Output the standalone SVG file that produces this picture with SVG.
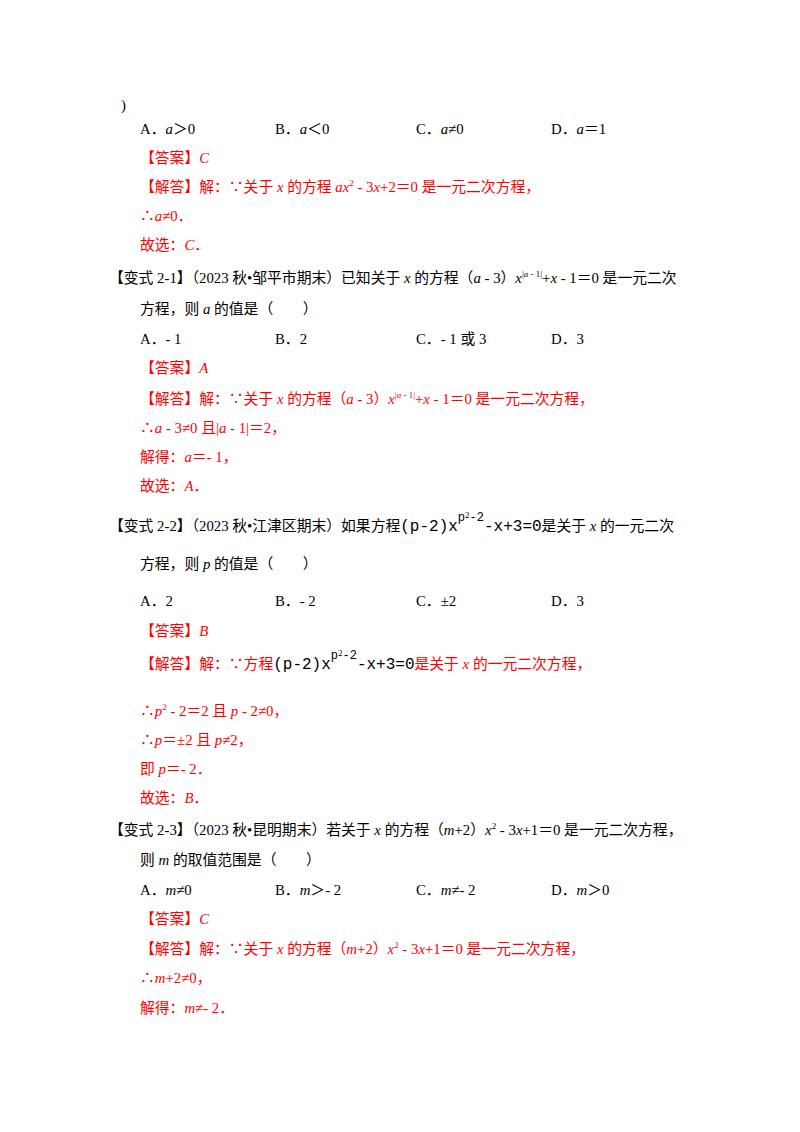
<svg xmlns="http://www.w3.org/2000/svg" width="800" height="1132" viewBox="0 0 800 1132">
<style>
text{font-family:"Liberation Serif","Noto Sans CJK SC",serif;font-size:14.8px;fill:#000}
.r{fill:#f00}
.i{font-style:italic}
.s{font-size:9px}
.m{font-family:"Liberation Mono","Noto Sans CJK SC",monospace;font-size:16px}
.ms{font-family:"Liberation Mono",monospace;font-size:12px}
</style>
<rect width="800" height="1132" fill="#fff"/>
<text x="121" y="110">)</text>
<text x="140" y="134">A．<tspan class="i">a</tspan>＞0</text>
<text x="275" y="134">B．<tspan class="i">a</tspan>＜0</text>
<text x="416" y="134">C．<tspan class="i">a</tspan>≠0</text>
<text x="551" y="134">D．<tspan class="i">a</tspan>＝1</text>
<text x="140" y="163" class="r">【答案】<tspan class="i">C</tspan></text>
<text x="140" y="192" class="r">【解答】解：∵关于 <tspan class="i">x</tspan> 的方程 <tspan class="i">ax</tspan><tspan class="s" dy="-6">2</tspan><tspan dy="6"> - 3</tspan><tspan class="i">x</tspan>+2＝0 是一元二次方程，</text>
<text x="140" y="221" class="r">∴<tspan class="i">a</tspan>≠0．</text>
<text x="140" y="250" class="r">故选：<tspan class="i">C</tspan>．</text>
<text x="109" y="283">【变式 2-1】（2023 秋•邹平市期末）已知关于 <tspan class="i">x</tspan> 的方程（<tspan class="i">a</tspan> - 3）<tspan class="i">x</tspan><tspan class="s" dy="-6">|<tspan class="i">a</tspan> - 1|</tspan><tspan dy="6">+</tspan><tspan class="i">x</tspan> - 1＝0 是一元二次</text>
<text x="140" y="314">方程，则 <tspan class="i">a</tspan> 的值是（　　）</text>
<text x="140" y="344">A．- 1</text>
<text x="275" y="344">B．2</text>
<text x="416" y="344">C．- 1 或 3</text>
<text x="551" y="344">D．3</text>
<text x="140" y="373" class="r">【答案】<tspan class="i">A</tspan></text>
<text x="140" y="404" class="r">【解答】解：∵关于 <tspan class="i">x</tspan> 的方程（<tspan class="i">a</tspan> - 3）<tspan class="i">x</tspan><tspan class="s" dy="-6">|<tspan class="i">a</tspan> - 1|</tspan><tspan dy="6">+</tspan><tspan class="i">x</tspan> - 1＝0 是一元二次方程，</text>
<text x="140" y="433" class="r">∴<tspan class="i">a</tspan> - 3≠0 且|<tspan class="i">a</tspan> - 1|＝2，</text>
<text x="140" y="462" class="r">解得：<tspan class="i">a</tspan>＝- 1，</text>
<text x="140" y="491" class="r">故选：<tspan class="i">A</tspan>．</text>
<text x="109" y="531">【变式 2-2】（2023 秋•江津区期末）如果方程<tspan class="m">(p-2)x</tspan><tspan class="ms" dy="-10">p</tspan><tspan class="s" dy="-3">2</tspan><tspan class="ms" dy="3">-2</tspan><tspan class="m" dy="10">-x+3=0</tspan>是关于 <tspan class="i">x</tspan> 的一元二次</text>
<text x="140" y="569">方程，则 <tspan class="i">p</tspan> 的值是（　　）</text>
<text x="140" y="606">A．2</text>
<text x="275" y="606">B．- 2</text>
<text x="416" y="606">C．±2</text>
<text x="551" y="606">D．3</text>
<text x="140" y="636" class="r">【答案】<tspan class="i">B</tspan></text>
<text x="140" y="669" class="r">【解答】解：∵方程<tspan class="m" fill="#000">(p-2)x</tspan><tspan class="ms" fill="#000" dy="-10">p</tspan><tspan class="s" fill="#000" dy="-3">2</tspan><tspan class="ms" fill="#000" dy="3">-2</tspan><tspan class="m" fill="#000" dy="10">-x+3=0</tspan>是关于 <tspan class="i">x</tspan> 的一元二次方程，</text>
<text x="140" y="716" class="r">∴<tspan class="i">p</tspan><tspan class="s" dy="-6">2</tspan><tspan dy="6"> - 2＝2 且 </tspan><tspan class="i">p</tspan> - 2≠0，</text>
<text x="140" y="745" class="r">∴<tspan class="i">p</tspan>＝±2 且 <tspan class="i">p</tspan>≠2，</text>
<text x="140" y="774" class="r">即 <tspan class="i">p</tspan>＝- 2．</text>
<text x="140" y="803" class="r">故选：<tspan class="i">B</tspan>．</text>
<text x="109" y="835">【变式 2-3】（2023 秋•昆明期末）若关于 <tspan class="i">x</tspan> 的方程（<tspan class="i">m</tspan>+2）<tspan class="i">x</tspan><tspan class="s" dy="-6">2</tspan><tspan dy="6"> - 3</tspan><tspan class="i">x</tspan>+1＝0 是一元二次方程，</text>
<text x="140" y="865">则 <tspan class="i">m</tspan> 的取值范围是（　　）</text>
<text x="140" y="895">A．<tspan class="i">m</tspan>≠0</text>
<text x="275" y="895">B．<tspan class="i">m</tspan>＞- 2</text>
<text x="416" y="895">C．<tspan class="i">m</tspan>≠- 2</text>
<text x="551" y="895">D．<tspan class="i">m</tspan>＞0</text>
<text x="140" y="924" class="r">【答案】<tspan class="i">C</tspan></text>
<text x="140" y="954" class="r">【解答】解：∵关于 <tspan class="i">x</tspan> 的方程（<tspan class="i">m</tspan>+2）<tspan class="i">x</tspan><tspan class="s" dy="-6">2</tspan><tspan dy="6"> - 3</tspan><tspan class="i">x</tspan>+1＝0 是一元二次方程，</text>
<text x="140" y="983" class="r">∴<tspan class="i">m</tspan>+2≠0，</text>
<text x="140" y="1013" class="r">解得：<tspan class="i">m</tspan>≠- 2．</text>
</svg>
